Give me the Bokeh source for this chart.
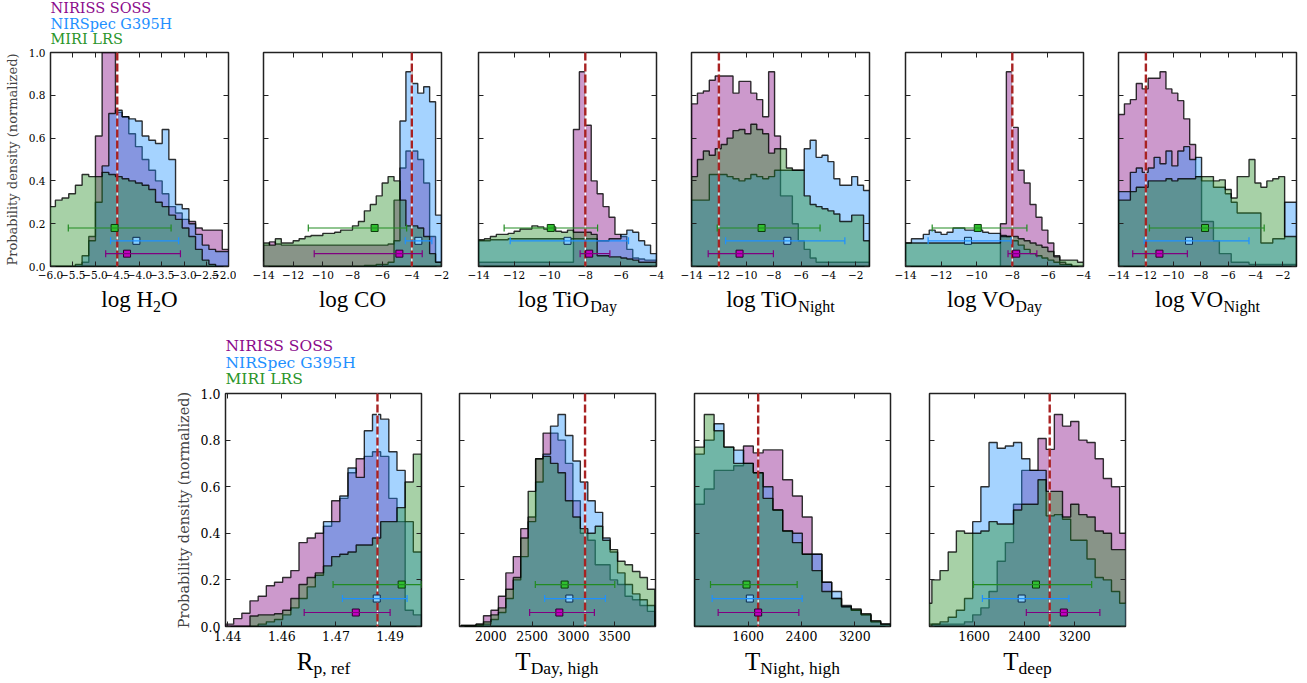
import numpy as np
from bokeh.plotting import figure
from bokeh.models import (Range1d, FixedTicker, LinearAxis, Label, Span, Whisker,
                          TeeHead, ColumnDataSource)
from bokeh.layouts import row, column
from bokeh.embed import file_html
from bokeh.resources import INLINE

# ---------------------------------------------------------------- data
INSTRUMENTS = ["NIRISS SOSS", "NIRSpec G395H", "MIRI LRS"]
HIST_COLORS = ["#800080", "#1e90ff", "#228b22"]
LEGEND_COLORS = ["#8b0a8b", "#1e90ff", "#2a952a"]
BAR_COLORS = ["#800080", "#1e90ff", "#228b22"]
MARKER_FILLS = ["#c000c0", "#87cefa", "#30c030"]
MARKER_EDGES = ["#2a002a", "#0a2a50", "#0a3a0a"]
ERR_Y = [0.06, 0.12, 0.18]
Y_TICKS = [0.0, 0.2, 0.4, 0.6, 0.8, 1.0]
Y_TICK_LABELS = ["0.0", "0.2", "0.4", "0.6", "0.8", "1.0"]
Y_LABEL = "Probability density (normalized)"

LOG_TICKS = [-14, -12, -10, -8, -6, -4, -2]
LOG_TICK_LABELS = ["−14", "−12", "−10", "−8", "−6", "−4", "−2"]
LOG_TICKS_4 = [-14, -12, -10, -8, -6, -4]
LOG_TICK_LABELS_4 = ["−14", "−12", "−10", "−8", "−6", "−4"]

# log H2O
H2O_XR = [-6.0, -2.0]
H2O_BINS = [-6.04, -1.99]
H2O_SOSS = [0, 0, 0, 0, 0, 0.02, 0.14, 0.61, 1.0, 1.0, 0.72, 0.70, 0.62, 0.56, 0.50, 0.45,
            0.40, 0.34, 0.28, 0.25, 0.22, 0.21, 0.18, 0.17, 0.17, 0.17, 0.08]
H2O_G395H = [0, 0, 0, 0, 0.01, 0.05, 0.12, 0.30, 0.47, 0.715, 0.73, 0.70, 0.69, 0.68, 0.61,
             0.59, 0.575, 0.64, 0.50, 0.29, 0.27, 0.20, 0.15, 0.10, 0.08, 0.07, 0.07]
H2O_LRS = [0.28, 0.31, 0.32, 0.34, 0.38, 0.43, 0.42, 0.42, 0.44, 0.43, 0.42, 0.41, 0.40,
           0.39, 0.38, 0.36, 0.30, 0.28, 0.24, 0.22, 0.18, 0.14, 0.08, 0.03, 0.01, 0, 0]
H2O_TRUE = -4.5
H2O_MED = [-4.28, -4.07, -4.56]
H2O_LO = [-4.76, -4.65, -5.60]
H2O_HI = [-3.08, -3.12, -3.29]
H2O_TICKS = [-6.0, -5.5, -5.0, -4.5, -4.0, -3.5, -3.0, -2.5, -2.0]
H2O_TICK_LABELS = ["−6.0", "−5.5", "−5.0", "−4.5", "−4.0", "−3.5", "−3.0", "−2.5", "−2.0"]
H2O_NAME = [("log H", 0), ("2", 1), ("O", 0)]

# log CO
CO_XR = [-14.0, -2.0]
CO_BINS = [-14.0, -2.0]
CO_SOSS = [0.10, 0.115, 0.105, 0.10, 0.10, 0.10, 0.10, 0.10, 0.10, 0.10, 0.10, 0.10, 0.10,
           0.10, 0.10, 0.10, 0.10, 0.10, 0.10, 0.10, 0.10, 0.105, 0.31, 0.46, 0.54, 0.54,
           0.50, 0.39, 0.14, 0.02]
CO_G395H = [0, 0, 0, 0, 0, 0, 0, 0, 0, 0, 0, 0, 0, 0, 0, 0, 0, 0.005, 0.005, 0.01, 0.01,
            0.02, 0.12, 0.68, 0.91, 0.855, 0.81, 0.84, 0.77, 0.24]
CO_LRS = [0.11, 0.10, 0.13, 0.11, 0.11, 0.12, 0.13, 0.14, 0.145, 0.145, 0.155, 0.155, 0.16,
          0.17, 0.17, 0.19, 0.21, 0.26, 0.29, 0.33, 0.39, 0.42, 0.40, 0.31, 0.19, 0.19,
          0.18, 0.14, 0.06, 0.02]
CO_TRUE = -4.0
CO_MED = [-4.84, -3.56, -6.51]
CO_LO = [-10.58, -4.44, -10.98]
CO_HI = [-3.30, -2.65, -4.35]
CO_NAME = [("log CO", 0)]

# log TiO day
TIOD_XR = [-14.0, -4.0]
TIOD_BINS = [-14.0, -4.0]
TIOD_SOSS = [0.02, 0.02, 0.02, 0.02, 0.02, 0.02, 0.02, 0.02, 0.02, 0.02, 0.02, 0.02, 0.02,
             0.02, 0.02, 0.02, 0.64, 0.91, 0.66, 0.40, 0.34, 0.28, 0.23, 0.15, 0.14, 0.08,
             0.04, 0.035, 0.03, 0.03]
TIOD_G395H = [0.12, 0.12, 0.125, 0.125, 0.125, 0.13, 0.13, 0.13, 0.13, 0.13, 0.13, 0.13,
              0.13, 0.13, 0.13, 0.13, 0.13, 0.13, 0.13, 0.13, 0.12, 0.12, 0.13, 0.13, 0.15,
              0.17, 0.16, 0.12, 0.10, 0.06]
TIOD_LRS = [0.125, 0.13, 0.14, 0.15, 0.15, 0.155, 0.165, 0.175, 0.175, 0.19, 0.185, 0.175,
            0.185, 0.165, 0.16, 0.17, 0.16, 0.16, 0.16, 0.15, 0.05, 0.05, 0.045, 0.045,
            0.04, 0.035, 0.03, 0.02, 0.02, 0.02]
TIOD_TRUE = -8.0
TIOD_MED = [-7.78, -9.0, -9.94]
TIOD_LO = [-8.29, -12.22, -12.56]
TIOD_HI = [-6.62, -5.57, -7.31]
TIOD_NAME = [("log TiO", 0), ("Day", 1)]

# log TiO night
TION_XR = [-14.0, -1.0]
TION_BINS = [-14.0, -1.0]
TION_SOSS = [0.76, 0.81, 0.82, 0.87, 0.89, 0.89, 0.89, 0.81, 0.865, 0.865, 0.81, 0.78,
             0.70, 0.91, 0.61, 0.33, 0.33, 0.20, 0.12, 0.08, 0.04, 0.02, 0.02, 0.02, 0.02,
             0.02, 0.02, 0.02, 0.02, 0.02]
TION_G395H = [0.31, 0.31, 0.31, 0.43, 0.43, 0.43, 0.42, 0.41, 0.40, 0.41, 0.43, 0.42,
              0.41, 0.42, 0.45, 0.45, 0.45, 0.45, 0.45, 0.55, 0.59, 0.51, 0.52, 0.49, 0.41,
              0.38, 0.38, 0.42, 0.38, 0.355]
TION_LRS = [0.42, 0.50, 0.54, 0.52, 0.55, 0.57, 0.60, 0.635, 0.64, 0.62, 0.665, 0.64, 0.62,
            0.53, 0.55, 0.55, 0.46, 0.45, 0.45, 0.33, 0.29, 0.28, 0.27, 0.26, 0.245, 0.21,
            0.21, 0.24, 0.24, 0.12]
TION_TRUE = -12.0
TION_MED = [-10.49, -7.0, -8.88]
TION_LO = [-12.78, -11.51, -12.12]
TION_HI = [-8.02, -2.8, -4.61]
TION_NAME = [("log TiO", 0), ("Night", 1)]

# log VO day
VOD_XR = [-14.0, -4.0]
VOD_BINS = [-14.0, -4.0]
VOD_SOSS = [0, 0, 0, 0, 0, 0, 0, 0, 0, 0, 0, 0, 0, 0, 0, 0, 0.20, 0.91, 0.65, 0.45, 0.39,
            0.29, 0.23, 0.17, 0.11, 0.05, 0.02, 0.01, 0, 0]
VOD_G395H = [0.11, 0.13, 0.13, 0.15, 0.17, 0.16, 0.15, 0.16, 0.18, 0.18, 0.17, 0.17, 0.17,
             0.16, 0.155, 0.155, 0.145, 0.14, 0.12, 0.10, 0.08, 0.06, 0.05, 0.04, 0.03,
             0.02, 0.01, 0.01, 0, 0]
VOD_LRS = [0.11, 0.11, 0.11, 0.11, 0.11, 0.11, 0.11, 0.11, 0.11, 0.11, 0.11, 0.11, 0.11,
           0.11, 0.11, 0.11, 0.14, 0.14, 0.14, 0.13, 0.12, 0.11, 0.10, 0.09, 0.07, 0.045,
           0.03, 0.03, 0.03, 0.02]
VOD_TRUE = -8.0
VOD_MED = [-7.78, -10.49, -9.94]
VOD_LO = [-8.24, -12.73, -12.5]
VOD_HI = [-6.62, -8.07, -7.18]
VOD_NAME = [("log VO", 0), ("Day", 1)]

# log VO night
VON_XR = [-14.0, -1.0]
VON_BINS = [-14.0, -1.0]
VON_SOSS = [0.71, 0.76, 0.78, 0.855, 0.83, 0.88, 0.88, 0.91, 0.83, 0.81, 0.775, 0.69,
            0.57, 0.42, 0.21, 0.21, 0.12, 0.06, 0.06, 0.02, 0.02, 0.02, 0.01, 0.01, 0.01,
            0.01, 0.01, 0.01, 0.01, 0.01]
VON_G395H = [0.35, 0.35, 0.44, 0.46, 0.44, 0.46, 0.51, 0.48, 0.54, 0.47, 0.54, 0.56, 0.50,
             0.51, 0.40, 0.40, 0.37, 0.37, 0.34, 0.30, 0.25, 0.25, 0.25, 0.25, 0.11, 0.11,
             0.13, 0.13, 0.30, 0.30]
VON_LRS = [0.31, 0.31, 0.35, 0.37, 0.37, 0.40, 0.40, 0.40, 0.41, 0.40, 0.41, 0.41, 0.41,
           0.42, 0.42, 0.42, 0.40, 0.405, 0.36, 0.32, 0.42, 0.42, 0.50, 0.39, 0.37, 0.40,
           0.41, 0.42, 0.14, 0.14]
VON_TRUE = -12.0
VON_MED = [-11.01, -8.85, -7.68]
VON_LO = [-12.96, -12.13, -11.74]
VON_HI = [-8.97, -4.47, -3.36]
VON_NAME = [("log VO", 0), ("Night", 1)]

# R_p,ref
RP_XR = [1.4419, 1.4962]
RP_BINS = [1.4419, 1.4962]
RP_SOSS = [0.01, 0.034, 0.057, 0.11, 0.13, 0.175, 0.19, 0.21, 0.24, 0.36, 0.38, 0.40,
           0.43, 0.54, 0.55, 0.66, 0.72, 0.73, 0.75, 0.73, 0.55, 0.45, 0.07, 0.05]
RP_G395H = [0, 0, 0, 0, 0.01, 0.02, 0.03, 0.05, 0.08, 0.12, 0.17, 0.22, 0.45, 0.45, 0.56,
            0.68, 0.64, 0.84, 0.91, 0.89, 0.75, 0.67, 0.45, 0.32]
RP_LRS = [0, 0, 0, 0.045, 0.05, 0.05, 0.055, 0.07, 0.12, 0.18, 0.21, 0.23, 0.26, 0.30,
          0.31, 0.32, 0.35, 0.35, 0.38, 0.45, 0.45, 0.51, 0.62, 0.74]
RP_TRUE = 1.4840
RP_MED = [1.4780, 1.4838, 1.4907]
RP_LO = [1.4637, 1.4743, 1.4717]
RP_HI = [1.4875, 1.4922, 1.4962]
RP_TICKS = [1.4425, 1.4575, 1.4725, 1.4875]
RP_TICK_LABELS = ["1.44", "1.46", "1.47", "1.49"]
RP_NAME = [("R", 0), ("p, ref", 1)]

# T day, high
TD_XR = [1620.0, 3993.0]
TD_BINS = [1640.0, 3985.0]
TD_SOSS = [0.005, 0.005, 0.01, 0.046, 0.07, 0.13, 0.23, 0.30, 0.42, 0.47, 0.72, 0.83,
           0.83, 0.80, 0.70, 0.54, 0.40, 0.37, 0.265, 0.265, 0.20, 0.18, 0.13, 0.115,
           0.09, 0.065]
TD_G395H = [0, 0, 0.005, 0.01, 0.03, 0.06, 0.12, 0.20, 0.30, 0.45, 0.62, 0.74, 0.86, 0.91,
            0.82, 0.71, 0.62, 0.54, 0.49, 0.38, 0.32, 0.23, 0.18, 0.14, 0.115, 0.09]
TD_LRS = [0.005, 0.005, 0.01, 0.02, 0.05, 0.08, 0.16, 0.21, 0.38, 0.58, 0.72, 0.73, 0.70,
          0.66, 0.54, 0.47, 0.42, 0.40, 0.43, 0.37, 0.33, 0.28, 0.265, 0.236, 0.21, 0.16]
TD_TRUE = 3140.0
TD_MED = [2829.0, 2950.0, 2893.0]
TD_LO = [2469.0, 2651.0, 2538.0]
TD_HI = [3253.0, 3386.0, 3500.0]
TD_TICKS = [2000, 2500, 3000, 3500]
TD_TICK_LABELS = ["2000", "2500", "3000", "3500"]
TD_NAME = [("T", 0), ("Day, high", 1)]

# T night, high
TN_XR = [795.0, 3735.0]
TN_BINS = [795.0, 3735.0]
TN_SOSS = [0.525, 0.59, 0.67, 0.67, 0.69, 0.775, 0.745, 0.758, 0.758, 0.63, 0.56, 0.47,
           0.31, 0.19, 0.12, 0.085, 0.07, 0.05, 0.02, 0.01]
TN_G395H = [0.74, 0.80, 0.87, 0.77, 0.757, 0.70, 0.66, 0.60, 0.50, 0.41, 0.40, 0.31, 0.31,
            0.19, 0.15, 0.09, 0.07, 0.05, 0.02, 0.01]
TN_LRS = [0.77, 0.91, 0.84, 0.77, 0.70, 0.70, 0.66, 0.55, 0.50, 0.41, 0.36, 0.31, 0.24,
          0.15, 0.12, 0.085, 0.075, 0.055, 0.025, 0.01]
TN_TRUE = 1750.0
TN_MED = [1750.0, 1625.0, 1575.0]
TN_LO = [1150.0, 1060.0, 1035.0]
TN_HI = [2360.0, 2410.0, 2335.0]
T_TICKS = [1600, 2400, 3200]
T_TICK_LABELS = ["1600", "2400", "3200"]
TN_NAME = [("T", 0), ("Night, high", 1)]

# T deep
TP_XR = [892.0, 4003.0]
TP_BINS = [800.0, 4040.0]
TP_SOSS = [0.01, 0.01, 0.01, 0.01, 0.01, 0.02, 0.05, 0.08, 0.15, 0.28, 0.36, 0.525, 0.67,
           0.67, 0.807, 0.76, 0.91, 0.86, 0.88, 0.80, 0.79, 0.72, 0.635, 0.60, 0.40]
TP_G395H = [0.0, 0.01, 0.02, 0.04, 0.07, 0.12, 0.45, 0.60, 0.79, 0.765, 0.775, 0.79, 0.72,
            0.67, 0.67, 0.475, 0.48, 0.46, 0.37, 0.37, 0.29, 0.21, 0.20, 0.15, 0.10]
TP_LRS = [0.10, 0.20, 0.24, 0.32, 0.41, 0.40, 0.40, 0.41, 0.45, 0.44, 0.44, 0.50, 0.525,
          0.525, 0.63, 0.58, 0.58, 0.47, 0.525, 0.48, 0.47, 0.41, 0.40, 0.33, 0.33]
TP_TRUE = 2800.0
TP_MED = [3024.0, 2355.0, 2582.0]
TP_LO = [2429.0, 1732.0, 1590.0]
TP_HI = [3596.0, 3105.0, 3466.0]
TP_NAME = [("T", 0), ("deep", 1)]

TOP_PANELS = [
    (H2O_XR, H2O_BINS, (H2O_SOSS, H2O_G395H, H2O_LRS), H2O_TRUE, (H2O_MED, H2O_LO, H2O_HI), H2O_TICKS, H2O_TICK_LABELS, H2O_NAME),
    (CO_XR, CO_BINS, (CO_SOSS, CO_G395H, CO_LRS), CO_TRUE, (CO_MED, CO_LO, CO_HI), LOG_TICKS, LOG_TICK_LABELS, CO_NAME),
    (TIOD_XR, TIOD_BINS, (TIOD_SOSS, TIOD_G395H, TIOD_LRS), TIOD_TRUE, (TIOD_MED, TIOD_LO, TIOD_HI), LOG_TICKS_4, LOG_TICK_LABELS_4, TIOD_NAME),
    (TION_XR, TION_BINS, (TION_SOSS, TION_G395H, TION_LRS), TION_TRUE, (TION_MED, TION_LO, TION_HI), LOG_TICKS, LOG_TICK_LABELS, TION_NAME),
    (VOD_XR, VOD_BINS, (VOD_SOSS, VOD_G395H, VOD_LRS), VOD_TRUE, (VOD_MED, VOD_LO, VOD_HI), LOG_TICKS_4, LOG_TICK_LABELS_4, VOD_NAME),
    (VON_XR, VON_BINS, (VON_SOSS, VON_G395H, VON_LRS), VON_TRUE, (VON_MED, VON_LO, VON_HI), LOG_TICKS, LOG_TICK_LABELS, VON_NAME),
]
BOTTOM_PANELS = [
    (RP_XR, RP_BINS, (RP_SOSS, RP_G395H, RP_LRS), RP_TRUE, (RP_MED, RP_LO, RP_HI), RP_TICKS, RP_TICK_LABELS, RP_NAME),
    (TD_XR, TD_BINS, (TD_SOSS, TD_G395H, TD_LRS), TD_TRUE, (TD_MED, TD_LO, TD_HI), TD_TICKS, TD_TICK_LABELS, TD_NAME),
    (TN_XR, TN_BINS, (TN_SOSS, TN_G395H, TN_LRS), TN_TRUE, (TN_MED, TN_LO, TN_HI), T_TICKS, T_TICK_LABELS, TN_NAME),
    (TP_XR, TP_BINS, (TP_SOSS, TP_G395H, TP_LRS), TP_TRUE, (TP_MED, TP_LO, TP_HI), T_TICKS, T_TICK_LABELS, TP_NAME),
]

# ---------------------------------------------------------------- style / layout
SERIF = "DejaVu Serif"
MATH = "Liberation Serif"
PAGE_W = 1307
RIGHT = 8
TOP_STYLE = dict(frame_w=178, frame_h=214, top=7, bottom=20, lefts=[50, 27, 29, 27, 28, 27],
                 tick_fs=10.5, ylab_fs=13, leg_fs=14.5, m_fs=23, s_fs=16)
BOT_STYLE = dict(frame_w=196, frame_h=233, top=7, bottom=22, lefts=[225, 30, 31, 31],
                 tick_fs=12.5, ylab_fs=14.5, leg_fs=15.5, m_fs=25, s_fs=17.5)
STRIP_A_H = 45     # legend of the top row
STRIP_B_H = 100    # axis titles of the top row + legend of the bottom row
STRIP_C_H = 35     # axis titles of the bottom row
TOP_LEGEND_Y = [7, 23, 38]
BOT_LEGEND_Y = [59, 76, 92]
TOP_TITLE_BASE = (13, 20)
BOT_TITLE_BASE = (13, 19)

TIMES_W = {' ': 250, ',': 250, 'l': 278, 'o': 500, 'g': 500, 'H': 722, 'O': 722, 'C': 667,
           'T': 611, 'i': 278, 'V': 722, 'D': 722, 'a': 444, 'y': 500, 'N': 722, 'h': 500,
           't': 278, 'p': 500, 'r': 333, 'e': 444, 'f': 333, 'd': 500, 'R': 667, '2': 500}


def text_w(s, size):
    return sum(TIMES_W.get(c, 500) for c in s) * size / 1000.0


def make_axis(ticks, labels, show, fs, standoff):
    ax = LinearAxis(ticker=FixedTicker(ticks=list(ticks)))
    ax.axis_line_color = None
    ax.major_tick_in = 5
    ax.major_tick_out = 0
    ax.major_tick_line_color = "#222222"
    ax.major_tick_line_width = 1
    ax.minor_tick_line_color = None
    if show:
        ax.major_label_overrides = {t: l for t, l in zip(ticks, labels)}
        ax.major_label_text_font = SERIF
        ax.major_label_text_font_size = f"{fs}px"
        ax.major_label_text_color = "black"
        ax.major_label_standoff = standoff
    else:
        ax.major_label_overrides = {t: "" for t in ticks}
        ax.major_label_text_font_size = "0px"
        ax.major_label_standoff = 0
    return ax


def step_poly(edges, h):
    xs = [edges[0]]
    ys = [0.0]
    for i, v in enumerate(h):
        xs += [edges[i], edges[i + 1]]
        ys += [v, v]
    xs.append(edges[-1])
    ys.append(0.0)
    return xs, ys


def make_panel(panel, st, idx):
    xr, bins, hists, truth, errs, xticks, xlabels, name = panel
    first = idx == 0
    left = st["lefts"][idx]
    h = st["top"] + st["frame_h"] + st["bottom"]
    p = figure(width=left + st["frame_w"] + RIGHT, height=h,
               x_range=Range1d(xr[0], xr[1]), y_range=Range1d(0, 1.0),
               x_axis_type=None, y_axis_type=None,
               output_backend="svg", toolbar_location=None,
               min_border_left=left, min_border_right=RIGHT,
               min_border_top=st["top"], min_border_bottom=st["bottom"])
    p.grid.visible = False
    p.outline_line_color = "#222222"
    p.outline_line_width = 1.5
    p.background_fill_color = "white"
    p.border_fill_color = "white"

    p.add_layout(make_axis(xticks, xlabels, True, st["tick_fs"], 4), "below")
    p.add_layout(make_axis(xticks, xlabels, False, 0, 0), "above")
    yax = make_axis(Y_TICKS, Y_TICK_LABELS, first, st["tick_fs"], 5)
    if first:
        yax.axis_label = Y_LABEL
        yax.axis_label_text_font = SERIF
        yax.axis_label_text_font_size = f"{st['ylab_fs']}px"
        yax.axis_label_text_font_style = "normal"
        yax.axis_label_standoff = 6
    p.add_layout(yax, "left")
    p.add_layout(make_axis(Y_TICKS, Y_TICK_LABELS, False, 0, 0), "right")

    for k in range(3):
        hk = hists[k]
        edges = np.linspace(bins[0], bins[1], len(hk) + 1)
        xs, ys = step_poly(edges, hk)
        p.patch(xs, ys, fill_color=HIST_COLORS[k], fill_alpha=0.4,
                line_color="black", line_alpha=0.8, line_width=1.4)

    p.add_layout(Span(location=truth, dimension="height", line_color="white",
                      line_width=1.2))
    p.add_layout(Span(location=truth, dimension="height", line_color="#a82222",
                      line_width=2.4, line_dash="8 3"))

    med, lo, hi = errs
    for k in range(3):
        src = ColumnDataSource(dict(base=[ERR_Y[k]], lower=[lo[k]], upper=[hi[k]]))
        c = BAR_COLORS[k]
        w = Whisker(source=src, base="base", lower="lower", upper="upper",
                    dimension="width", line_color=c, line_width=1.2, level="overlay",
                    upper_head=TeeHead(size=7, line_color=c, line_width=1.2),
                    lower_head=TeeHead(size=7, line_color=c, line_width=1.2))
        p.add_layout(w)
        p.scatter(x=[med[k]], y=[ERR_Y[k]], marker="square", size=7,
                  fill_color=MARKER_FILLS[k], line_color=MARKER_EDGES[k],
                  line_width=1, level="overlay")
    return p


def frame_centers(figs, st):
    centers = []
    x0 = 0
    for f, left in zip(figs, st["lefts"]):
        centers.append(x0 + left + st["frame_w"] / 2.0)
        x0 += f.width
    return centers


def frame_lefts(figs, st):
    out = []
    x0 = 0
    for f, left in zip(figs, st["lefts"]):
        out.append(x0 + left)
        x0 += f.width
    return out


def strip(height):
    s = figure(width=PAGE_W, height=height, x_range=Range1d(0, PAGE_W),
               y_range=Range1d(height, 0), x_axis_type=None, y_axis_type=None,
               output_backend="svg", toolbar_location=None,
               min_border=0, outline_line_color=None)
    s.grid.visible = False
    s.background_fill_color = "white"
    s.border_fill_color = "white"
    return s


def add_titles(s, panels, centers, st, bases):
    for pn, xc in zip(panels, centers):
        name = pn[7]
        total = sum(text_w(t, st["s_fs"] if sub else st["m_fs"]) for t, sub in name)
        cur = xc - total / 2.0
        for t, sub in name:
            fs = st["s_fs"] if sub else st["m_fs"]
            s.add_layout(Label(x=cur, y=bases[1] if sub else bases[0], text=t,
                               text_font=MATH, text_font_size=f"{fs}px",
                               text_color="black", text_align="left",
                               text_baseline="alphabetic"))
            cur += text_w(t, fs)


def add_legend(s, x, ys, fs):
    for k in range(3):
        s.add_layout(Label(x=x, y=ys[k], text=INSTRUMENTS[k], text_font=SERIF,
                           text_font_size=f"{fs}px", text_color=LEGEND_COLORS[k],
                           text_align="left", text_baseline="middle"))


top_figs = [make_panel(pn, TOP_STYLE, i) for i, pn in enumerate(TOP_PANELS)]
bot_figs = [make_panel(pn, BOT_STYLE, i) for i, pn in enumerate(BOTTOM_PANELS)]

strip_a = strip(STRIP_A_H)
add_legend(strip_a, frame_lefts(top_figs, TOP_STYLE)[0], TOP_LEGEND_Y, TOP_STYLE["leg_fs"])

strip_b = strip(STRIP_B_H)
add_titles(strip_b, TOP_PANELS, frame_centers(top_figs, TOP_STYLE), TOP_STYLE, TOP_TITLE_BASE)
add_legend(strip_b, frame_lefts(bot_figs, BOT_STYLE)[0], BOT_LEGEND_Y, BOT_STYLE["leg_fs"])

strip_c = strip(STRIP_C_H)
add_titles(strip_c, BOTTOM_PANELS, frame_centers(bot_figs, BOT_STYLE), BOT_STYLE, BOT_TITLE_BASE)

layout = column(strip_a, row(*top_figs, spacing=0), strip_b, row(*bot_figs, spacing=0),
                strip_c, spacing=0)

with open("out.html", "w") as f:
    f.write(file_html(layout, INLINE))
